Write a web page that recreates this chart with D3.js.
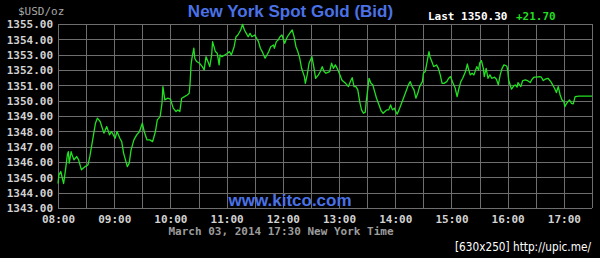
<!DOCTYPE html>
<html><head><meta charset="utf-8">
<script src="https://cdn.jsdelivr.net/npm/d3@7"></script>
<style>
html,body{margin:0;padding:0;background:#000;}
svg{display:block;}
</style></head>
<body>
<svg id="chart" width="600" height="258"></svg>
<script>
// ---- data ----
const sessionStart = "08:00";
const sessionMinutes = 570; // 08:00 -> 17:30
// minutes after 08:00
const minutes = [0,1,3,5,6,8,10,11,12,14,15,17,20,22,25,29,32,34,37,40,42,45,49,52,55,57,61,63,66,68,70,72,74,76,78,81,84,87,90,92,95,98,101,104,106,109,111,112,114,117,120,123,126,128,130,132,135,138,140,141,142,143,145,146,148,151,154,156,158,160,162,164,165,168,170,172,173,175,178,181,183,185,188,190,192,195,197,199,201,203,205,207,210,212,214,216,218,221,223,225,227,230,231,233,235,237,239,242,244,246,250,252,254,256,258,260,263,264,266,268,271,273,275,278,280,282,284,286,288,290,292,294,296,298,301,303,305,307,310,312,314,316,318,320,322,324,326,328,329,331,332,334,336,338,340,342,345,347,349,351,353,355,357,359,362,364,366,368,370,372,374,376,378,380,382,384,386,389,390,392,394,396,397,399,401,404,406,408,410,412,415,417,419,421,424,426,428,430,432,435,437,438,440,442,444,447,449,450,452,454,455,457,459,461,463,466,468,470,472,474,476,479,480,481,484,486,488,490,491,494,496,499,501,504,506,508,511,514,516,518,520,523,526,528,530,532,534,536,538,540,541,543,546,548,550,552,556,570];
const prices = [1344.6,1345.16,1345.38,1344.84,1344.6,1345.49,1346.47,1346.68,1345.93,1346.68,1346.47,1346.14,1346.36,1346.14,1345.49,1345.7,1345.81,1346.36,1347.44,1348.53,1348.86,1348.64,1347.88,1348.31,1347.77,1347.99,1347.55,1347.99,1347.55,1347.33,1346.58,1346.14,1345.7,1345.93,1346.79,1347.44,1347.77,1347.99,1348.53,1347.99,1347.44,1347.44,1347.33,1347.99,1348.75,1348.96,1349.83,1350.92,1350.05,1350.16,1350.1,1349.51,1349.29,1349.4,1349.29,1350.16,1350.26,1350.37,1350.48,1351.13,1352.33,1352.77,1353.42,1352.77,1352.55,1352.44,1352.22,1352.0,1352.87,1352.55,1352.22,1352.98,1353.85,1353.2,1353.09,1352.33,1352.98,1352.87,1352.98,1353.09,1353.2,1352.98,1353.52,1354.17,1354.28,1354.61,1354.98,1354.61,1354.39,1354.17,1354.39,1354.17,1354.28,1354.07,1353.85,1353.42,1353.2,1352.77,1352.98,1353.2,1353.52,1353.63,1353.42,1353.85,1353.96,1354.17,1354.28,1353.74,1354.07,1354.28,1354.61,1354.17,1353.52,1353.2,1352.77,1352.11,1351.57,1351.13,1351.68,1352.44,1352.87,1352.22,1351.46,1351.68,1351.9,1352.22,1351.9,1351.79,1351.85,1351.9,1352.44,1352.11,1352.33,1352.11,1351.68,1351.35,1351.24,1351.13,1350.92,1351.24,1351.5,1350.92,1350.92,1350.7,1349.94,1349.4,1349.18,1349.25,1349.94,1350.92,1351.46,1351.13,1351.03,1350.59,1350.16,1349.83,1349.33,1349.18,1349.29,1349.4,1349.4,1349.72,1349.4,1349.51,1349.12,1349.4,1349.72,1350.05,1350.37,1350.7,1351.03,1351.24,1350.92,1350.7,1350.16,1350.48,1350.92,1351.24,1351.79,1351.9,1352.55,1353.2,1352.87,1352.55,1352.22,1352.33,1352.11,1351.68,1351.13,1351.13,1351.24,1351.46,1351.57,1351.24,1350.81,1350.26,1350.81,1351.24,1351.46,1351.9,1352.39,1352.11,1351.68,1351.79,1351.68,1352.22,1352.0,1352.44,1352.61,1352.11,1351.57,1352.11,1351.46,1351.68,1351.46,1351.53,1351.4,1351.03,1351.68,1352.11,1352.33,1352.26,1352.0,1351.35,1350.75,1350.92,1351.03,1350.88,1351.18,1350.92,1351.31,1351.35,1351.31,1351.18,1351.4,1351.53,1351.53,1351.57,1351.53,1351.31,1351.4,1351.46,1351.24,1351.03,1350.81,1350.53,1350.92,1350.37,1350.05,1349.94,1349.61,1349.83,1350.05,1349.83,1349.79,1350.26,1350.3,1350.3];
const yTicks = [1343,1344,1345,1346,1347,1348,1349,1350,1351,1352,1353,1354,1355];
const xTickLabels = ["08:00","09:00","10:00","11:00","12:00","13:00","14:00","15:00","16:00","17:00"];
const gridMinutes = d3.range(0, 571, 30);
const titleText = "New York Spot Gold (Bid)";
const unitText = "$USD/oz";
const lastLabel = "Last 1350.30";
const changeLabel = "+21.70";
const dateText = "March 03, 2014 17:30 New York Time";
const siteText = "www.kitco.com";
const watermark = "[630x250] http://upic.me/";

// ---- chart ----
const svg = d3.select("#chart");
const pLeft = 58, pRight = 592, pTop = 24, pBottom = 208;
const x = d3.scaleLinear().domain([0, sessionMinutes]).range([pLeft, pRight]);
const y = d3.scaleLinear().domain([1343, 1355]).range([pBottom, pTop]);
const mono = "'DejaVu Sans Mono', monospace";
const sans = "'Liberation Sans', Arial, sans-serif";
const gridCol = "#6e6e6e";

svg.append("rect").attr("width",600).attr("height",258).attr("fill","#000");

// grid
const g = svg.append("g").attr("shape-rendering","crispEdges");
g.selectAll("line.h").data(yTicks).enter().append("line")
  .attr("x1", pLeft).attr("x2", pRight)
  .attr("y1", d => Math.round(y(d)) + 0.5).attr("y2", d => Math.round(y(d)) + 0.5)
  .attr("stroke", gridCol).attr("stroke-width",1);
g.selectAll("line.v").data(gridMinutes).enter().append("line")
  .attr("y1", pTop).attr("y2", pBottom)
  .attr("x1", d => Math.round(x(d)) + 0.5).attr("x2", d => Math.round(x(d)) + 0.5)
  .attr("stroke", gridCol).attr("stroke-width",1);

// y axis labels
const yAxis = d3.axisLeft(y).tickValues(yTicks).tickFormat(d3.format(".2f")).tickSize(0).tickPadding(5);
const ya = svg.append("g").attr("transform",`translate(${pLeft},0)`).call(yAxis);
ya.select(".domain").remove();
ya.selectAll("text").attr("font-family", mono).attr("font-weight","bold")
  .attr("font-size","11px").attr("fill","#d2d2d2").attr("dy","0.36em");

// x axis labels
const tickMins = xTickLabels.map((s,i) => i*60);
const xAxis = d3.axisBottom(x).tickValues(tickMins).tickFormat((d,i) => xTickLabels[i]).tickSize(0).tickPadding(0);
const xa = svg.append("g").attr("transform",`translate(0,${pBottom})`).call(xAxis);
xa.select(".domain").remove();
xa.selectAll("text").attr("font-family", mono).attr("font-weight","bold")
  .attr("font-size","11px").attr("fill","#d2d2d2").attr("dy","0").attr("y",15);

// price line
const line = d3.line().x((d,i) => x(minutes[i])).y(d => y(d));
svg.append("path").datum(prices).attr("d", line)
  .attr("fill","none").attr("stroke","#22e022").attr("stroke-width",1.3)
  .attr("stroke-linejoin","round");

// texts
svg.append("text").attr("x",18).attr("y",15).text(unitText)
  .attr("font-family", mono).attr("font-size","11px").attr("fill","#a8a8a8");
svg.append("text").attr("x",290.5).attr("y",17).attr("text-anchor","middle").text(titleText)
  .attr("font-family", sans).attr("font-weight","bold").attr("font-size","17px").attr("fill","#4a72e6");
svg.append("text").attr("x",428).attr("y",19.5).text(lastLabel)
  .attr("font-family", mono).attr("font-weight","bold").attr("font-size","11px").attr("fill","#ffffff");
svg.append("text").attr("x",516).attr("y",19.5).text(changeLabel)
  .attr("font-family", mono).attr("font-weight","bold").attr("font-size","11px").attr("fill","#22dd22");
svg.append("text").attr("x",290).attr("y",206).attr("text-anchor","middle").text(siteText)
  .attr("font-family", sans).attr("font-weight","bold").attr("font-size","17px").attr("fill","#4a72e6");
svg.append("text").attr("x",281).attr("y",235).attr("text-anchor","middle").text(dateText)
  .attr("font-family", mono).attr("font-weight","bold").attr("font-size","11px").attr("fill","#9c9c9c");
svg.append("text").attr("x",591).attr("y",251).attr("text-anchor","end").text(watermark)
  .attr("font-family","'DejaVu Sans Condensed','DejaVu Sans',sans-serif").attr("font-size","12px")
  .attr("textLength",136).attr("lengthAdjust","spacingAndGlyphs").attr("fill","#ffffff");
</script>
</body></html>
